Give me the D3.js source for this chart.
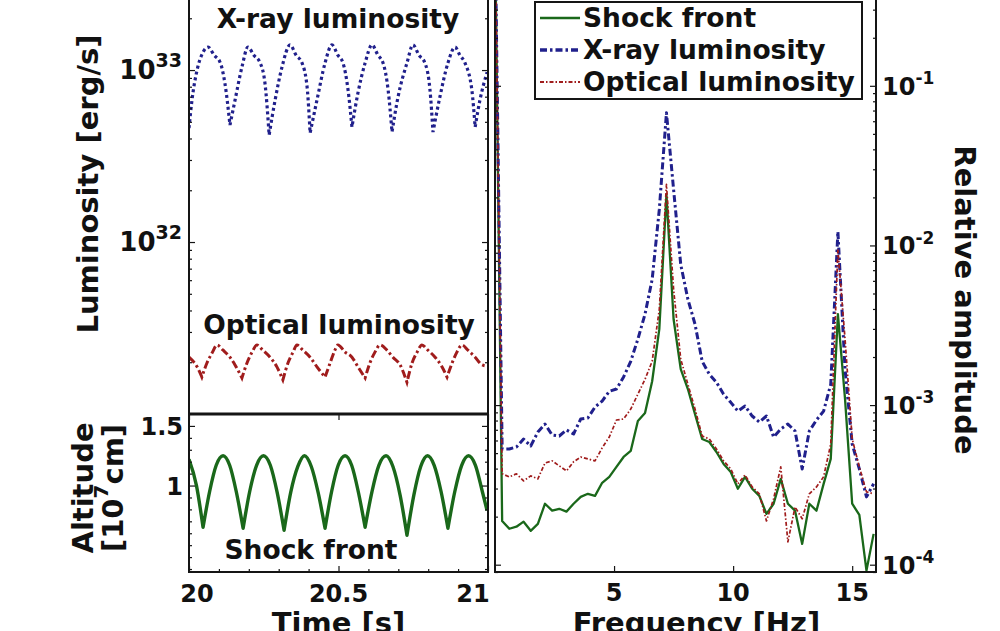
<!DOCTYPE html>
<html>
<head>
<meta charset="utf-8">
<script src="https://cdn.jsdelivr.net/npm/d3@7"></script>
<style>
  html, body { margin: 0; padding: 0; background: #fff; }
  svg { display: block; }
  text { font-family: "DejaVu Sans", sans-serif; font-weight: bold; fill: #111; }
</style>
</head>
<body>
<svg id="chart" width="1000" height="631"></svg>
<script>
// ---------- time series (t in s) ----------
const shockTime = [20.000,20.025,20.047,20.069,20.091,20.114,20.136,20.158,20.181,20.203,20.226,20.249,20.272,20.295,20.318,20.340,20.364,20.386,20.409,20.432,20.455,20.477,20.499,20.522,20.544,20.566,20.589,20.612,20.635,20.659,20.682,20.706,20.729,20.752,20.775,20.798,20.820,20.843,20.866,20.889,20.912,20.935,20.958,20.981,20.997];
const shockAltitude = [1.22,1.00,0.65, 0.95,1.17,1.25,1.17,0.95,0.642, 0.95,1.17,1.25,1.17,0.94,0.625, 0.94,1.16,1.25,1.16,0.94,0.642, 0.95,1.17,1.25,1.17,0.95,0.65, 0.95,1.17,1.25,1.16,0.92,0.583, 0.92,1.16,1.25,1.17,0.95,0.642, 0.95,1.17,1.25,1.17,0.95,0.79];

const xrayTime = [20.000,20.010,20.027,20.047,20.064,20.084,20.104,20.120,20.137,20.154,20.177,20.197,20.217,20.237,20.254,20.268,20.288,20.311,20.338,20.358,20.378,20.395,20.405,20.428,20.455,20.478,20.498,20.515,20.532,20.545,20.565,20.589,20.612,20.632,20.649,20.666,20.679,20.699,20.729,20.749,20.769,20.789,20.806,20.816,20.839,20.866,20.890,20.906,20.923,20.946,20.957,20.973,20.997];
const xrayLum = [4.60e32,6.69e32,1.00e33,1.27e33,1.36e33,1.22e33,1.11e33,8.40e32,4.79e32,6.69e32,1.04e33,1.36e33,1.22e33,1.11e33,8.40e32,4.19e32,6.69e32,1.04e33,1.40e33,1.22e33,1.10e33,7.96e32,4.30e32,6.69e32,1.10e33,1.40e33,1.22e33,1.10e33,7.65e32,4.66e32,7.35e32,1.10e33,1.40e33,1.22e33,1.10e33,7.65e32,4.36e32,6.96e32,1.10e33,1.40e33,1.22e33,1.10e33,7.65e32,4.36e32,6.96e32,1.10e33,1.36e33,1.22e33,1.10e33,7.65e32,4.66e32,6.69e32,9.70e32];

const opticalTime = [20.000,20.027,20.043,20.060,20.077,20.094,20.114,20.137,20.154,20.177,20.194,20.211,20.227,20.247,20.271,20.294,20.314,20.331,20.348,20.361,20.381,20.405,20.428,20.455,20.472,20.488,20.498,20.522,20.545,20.565,20.589,20.605,20.622,20.639,20.662,20.682,20.706,20.729,20.746,20.763,20.779,20.799,20.823,20.846,20.863,20.880,20.896,20.913,20.933,20.957,20.980,20.997];
const opticalLum = [2.14e31,1.88e31,1.64e31,1.98e31,2.26e31,2.52e31,2.35e31,2.14e31,1.93e31,1.62e31,1.98e31,2.29e31,2.52e31,2.35e31,2.14e31,1.88e31,1.58e31,1.98e31,2.29e31,2.52e31,2.35e31,2.14e31,1.88e31,1.64e31,1.98e31,2.35e31,2.52e31,2.29e31,2.14e31,1.88e31,1.62e31,1.98e31,2.29e31,2.52e31,2.35e31,2.14e31,1.93e31,1.53e31,1.98e31,2.29e31,2.52e31,2.35e31,2.14e31,1.88e31,1.64e31,1.98e31,2.29e31,2.52e31,2.35e31,2.14e31,1.93e31,1.90e31];

// ---------- spectra (relative amplitude vs frequency in Hz) ----------
const freq = [0,0.3,0.6,0.9,1.2,1.5,1.8,2.1,2.4,2.7,3.0,3.3,3.6,3.9,4.2,4.5,4.8,5.1,5.4,5.7,6.0,6.3,6.6,6.9,7.2,7.5,7.8,8.1,8.4,8.7,9.0,9.3,9.6,9.9,10.2,10.5,10.8,11.1,11.4,11.7,12.0,12.3,12.6,12.9,13.2,13.5,13.8,14.1,14.4,14.7,15.0,15.3,15.6,15.9];
const ampShock = [1,1.88e-4,1.68e-4,1.73e-4,1.86e-4,1.63e-4,1.80e-4,2.41e-4,2.18e-4,2.24e-4,2.15e-4,2.41e-4,2.66e-4,2.78e-4,2.70e-4,3.26e-4,3.55e-4,4.10e-4,4.73e-4,5.16e-4,7.94e-4,8.91e-4,1.41e-3,2.99e-3,2.08e-2,3.45e-3,1.68e-3,1.26e-3,8.78e-4,6.13e-4,5.87e-4,5.08e-4,4.28e-4,3.81e-4,2.99e-4,3.55e-4,2.99e-4,2.70e-4,2.08e-4,2.41e-4,3.45e-4,2.41e-4,2.18e-4,1.35e-4,2.41e-4,2.18e-4,3.21e-4,4.60e-4,3.71e-3,1.09e-3,2.41e-4,2.05e-4,9.18e-5,1.56e-4];
const ampXray = [1,5.31e-4,5.31e-4,5.46e-4,6.13e-4,5.54e-4,6.78e-4,7.60e-4,6.49e-4,6.40e-4,6.98e-4,6.59e-4,8.18e-4,8.30e-4,9.72e-4,1.06e-3,1.22e-3,1.26e-3,1.50e-3,1.88e-3,2.59e-3,3.71e-3,6.13e-3,1.68e-2,6.78e-2,2.24e-2,7.60e-3,4.60e-3,3.21e-3,1.88e-3,1.56e-3,1.39e-3,1.17e-3,1.04e-3,9.17e-4,9.86e-4,8.54e-4,7.83e-4,8.54e-4,6.31e-4,7.08e-4,7.60e-4,6.88e-4,3.98e-4,6.88e-4,8.06e-4,9.17e-4,1.35e-3,1.22e-2,1.68e-3,5.70e-4,3.98e-4,2.66e-4,3.21e-4];
const ampOptical = [1,3.71e-4,3.55e-4,3.71e-4,3.35e-4,3.60e-4,3.45e-4,4.34e-4,4.47e-4,4.16e-4,3.87e-4,4.41e-4,4.73e-4,4.60e-4,4.47e-4,5.39e-4,6.31e-4,8.06e-4,8.18e-4,9.44e-4,1.17e-3,1.45e-3,1.88e-3,3.98e-3,2.41e-2,5.31e-3,1.94e-3,1.35e-3,9.44e-4,6.40e-4,6.13e-4,5.31e-4,4.47e-4,3.98e-4,3.21e-4,3.65e-4,3.07e-4,2.78e-4,1.88e-4,2.59e-4,4.10e-4,1.39e-4,2.30e-4,1.94e-4,2.78e-4,3.07e-4,3.55e-4,5.70e-4,9.44e-3,2.59e-3,6.13e-4,4.10e-4,2.86e-4,2.78e-4];

// ---------- tick values and labels ----------
const timeTicks = [20, 20.5, 21];
const timeTickLabels = ["20", "20.5", "21"];
const lumTicks = [1e32, 1e33];
const lumTickExps = ["32", "33"];
const altTicks = [1, 1.5];
const altTickLabels = ["1", "1.5"];
const freqTicks = [5, 10, 15];
const freqTickLabels = ["5", "10", "15"];
const ampTicks = [1e-4, 1e-3, 1e-2, 1e-1];
const ampTickExps = ["-4", "-3", "-2", "-1"];
const legendLabels = ["Shock front", "X-ray luminosity", "Optical luminosity"];

// ---------- layout ----------
const svg = d3.select("#chart");
const L = { x0: 189, x1: 488, top: -12, mid: 414, bot: 572 };
const R = { x0: 495, x1: 876, top: -12, bot: 572 };
const COL = { shock: "#1a681a", xray: "#20208c", optical: "#a01c1c", ink: "#151515" };

const xTime = d3.scaleLinear().domain([20, 21]).range([L.x0, L.x1]);
const yLum = d3.scaleLog().domain([1e31, 3e33]).range([L.mid, L.top]);
const yAlt = d3.scaleLinear().domain([0.275, 1.6]).range([L.bot, L.mid]);
const xFreq = d3.scaleLinear().domain([0, 16]).range([R.x0, R.x1]);
const yAmp = d3.scaleLog().domain([9e-5, 0.41]).range([R.bot, R.top]);

const defs = svg.append("defs");
function clip(id, x, y, w, h) {
  defs.append("clipPath").attr("id", id).append("rect")
    .attr("x", x).attr("y", y).attr("width", w).attr("height", h);
}
clip("clipLum", L.x0, L.top, L.x1 - L.x0, L.mid - L.top);
clip("clipAlt", L.x0, L.mid, L.x1 - L.x0, L.bot - L.mid);
clip("clipAmp", R.x0 - 2, R.top, R.x1 - R.x0 + 2, R.bot - R.top);

// A cusp-aware path: smooth within each arch, sharp at every local minimum.
function cuspPath(xs, ys, xScale, yScale) {
  const pts = xs.map((x, i) => [xScale(x), yScale(ys[i])]);
  const cuts = [0];
  for (let i = 1; i < ys.length - 1; i++) {
    if (ys[i] < ys[i - 1] && ys[i] < ys[i + 1]) cuts.push(i);
  }
  cuts.push(ys.length - 1);
  const line = d3.line().curve(d3.curveMonotoneX);
  return d3.pairs(cuts)
    .map(([a, b], k) => {
      const p = line(pts.slice(a, b + 1));
      return k ? p.replace(/^M/, "L") : p;
    })
    .join("");
}

// ---------- left panels: light curves ----------
const gLum = svg.append("g").attr("clip-path", "url(#clipLum)");
gLum.append("path")
  .attr("d", cuspPath(xrayTime, xrayLum, xTime, yLum))
  .attr("fill", "none").attr("stroke", COL.xray)
  .attr("stroke-width", 3.2).attr("stroke-dasharray", "3,3");
gLum.append("path")
  .attr("d", cuspPath(opticalTime, opticalLum, xTime, yLum))
  .attr("fill", "none").attr("stroke", COL.optical)
  .attr("stroke-width", 3).attr("stroke-dasharray", "8,3,2.5,3");

const gAlt = svg.append("g").attr("clip-path", "url(#clipAlt)");
gAlt.append("path")
  .attr("d", cuspPath(shockTime, shockAltitude, xTime, yAlt))
  .attr("fill", "none").attr("stroke", COL.shock)
  .attr("stroke-width", 3.4).attr("stroke-linejoin", "round");

// ---------- right panel: spectra ----------
const gAmp = svg.append("g").attr("clip-path", "url(#clipAmp)");
const specLine = d3.line().x((d, i) => xFreq(freq[i])).y(d => yAmp(d));
const spectra = [
  { values: ampShock, color: COL.shock, width: 2.3, dash: null },
  { values: ampXray, color: COL.xray, width: 3, dash: "7,3,2.5,3" },
  { values: ampOptical, color: COL.optical, width: 1.7, dash: "4,2,1.5,2" }
];
spectra.forEach(s => {
  gAmp.append("path")
    .attr("d", specLine(s.values))
    .attr("fill", "none").attr("stroke", s.color)
    .attr("stroke-width", s.width)
    .attr("stroke-dasharray", s.dash)
    .attr("stroke-linejoin", "round");
});

// ---------- ticks (inward, on both sides) ----------
function tickSet(axis, scale, values, len, tx, ty) {
  svg.append("g").attr("transform", `translate(${tx},${ty})`)
    .style("color", COL.ink)
    .call(axis(scale).tickValues(values).tickSize(-len).tickFormat(""))
    .call(g => g.select(".domain").remove())
    .call(g => g.selectAll("line").attr("stroke-width", 1.2));
}
const isDecade = v => Math.abs(Math.log10(v) - Math.round(Math.log10(v))) < 1e-9;
const lumMinor = yLum.ticks().filter(v => !isDecade(v));
const ampMinor = yAmp.ticks().filter(v => !isDecade(v));
const altMinor = d3.range(3, 16).map(k => k / 10).filter(v => !altTicks.includes(v));
const timeMinor = d3.range(1, 10).map(k => 20 + k / 10).filter(v => !timeTicks.includes(v));

tickSet(d3.axisLeft, yLum, lumTicks, 6, L.x0, 0);
tickSet(d3.axisLeft, yLum, lumMinor, 3, L.x0, 0);
tickSet(d3.axisRight, yLum, lumTicks, 6, L.x1, 0);
tickSet(d3.axisRight, yLum, lumMinor, 3, L.x1, 0);
tickSet(d3.axisLeft, yAlt, altTicks, 6, L.x0, 0);
tickSet(d3.axisLeft, yAlt, altMinor, 3, L.x0, 0);
tickSet(d3.axisRight, yAlt, altTicks, 6, L.x1, 0);
tickSet(d3.axisRight, yAlt, altMinor, 3, L.x1, 0);
tickSet(d3.axisBottom, xTime, timeTicks, 6, 0, L.bot);
tickSet(d3.axisBottom, xTime, timeMinor, 3, 0, L.bot);
tickSet(d3.axisTop, xTime, timeTicks, 6, 0, L.mid);
tickSet(d3.axisLeft, yAmp, ampTicks, 6, R.x0, 0);
tickSet(d3.axisLeft, yAmp, ampMinor, 3, R.x0, 0);
tickSet(d3.axisRight, yAmp, ampTicks, 6, R.x1, 0);
tickSet(d3.axisRight, yAmp, ampMinor, 3, R.x1, 0);
tickSet(d3.axisBottom, xFreq, freqTicks, 6, 0, R.bot);

// ---------- frames ----------
function frame(x0, y0, x1, y1) {
  svg.append("rect").attr("x", x0).attr("y", y0)
    .attr("width", x1 - x0).attr("height", y1 - y0)
    .attr("fill", "none").attr("stroke", COL.ink).attr("stroke-width", 2);
}
frame(L.x0, L.top, L.x1, L.mid);
frame(L.x0, L.mid, L.x1, L.bot);
frame(R.x0, R.top, R.x1, R.bot);
svg.append("line").attr("x1", L.x0).attr("x2", L.x1)
  .attr("y1", L.mid).attr("y2", L.mid)
  .attr("stroke", COL.ink).attr("stroke-width", 3);

// ---------- tick labels ----------
const TICK = 24;
function powerLabel(x, y, exp, anchor, size) {
  const t = svg.append("text").attr("x", x).attr("y", y)
    .attr("text-anchor", anchor).style("font-size", size + "px");
  t.append("tspan").text("10");
  t.append("tspan").attr("dy", -0.45 * size)
    .style("font-size", Math.round(size * 0.72) + "px").text(exp);
}
lumTicks.forEach((v, i) => powerLabel(L.x0 - 7, yLum(v) + 9, lumTickExps[i], "end", 26));
ampTicks.forEach((v, i) => powerLabel(R.x1 + 6, yAmp(v) + 9, ampTickExps[i], "start", TICK));

svg.selectAll(".altLab").data(altTicks).join("text")
  .attr("x", L.x0 - 6).attr("y", d => yAlt(d) + 9)
  .attr("text-anchor", "end").style("font-size", TICK + "px")
  .text((d, i) => altTickLabels[i]);

const lastT = timeTicks.length - 1;
svg.selectAll(".timeLab").data(timeTicks).join("text")
  .attr("x", d => xTime(d)).attr("y", 602)
  .attr("dx", (d, i) => i === 0 ? 8 : i === lastT ? -15 : 0)
  .attr("text-anchor", "middle").style("font-size", TICK + "px")
  .text((d, i) => timeTickLabels[i]);

svg.selectAll(".freqLab").data(freqTicks).join("text")
  .attr("x", d => xFreq(d)).attr("y", 601)
  .attr("text-anchor", "middle").style("font-size", TICK + "px")
  .text((d, i) => freqTickLabels[i]);

// ---------- axis titles ----------
const TITLE = 29;
svg.append("text").attr("transform", "translate(88,184) rotate(-90)")
  .attr("text-anchor", "middle").attr("dominant-baseline", "central")
  .style("font-size", TITLE + "px").text("Luminosity [erg/s]");
svg.append("text").attr("transform", "translate(83,488) rotate(-90)")
  .attr("text-anchor", "middle").attr("dominant-baseline", "central")
  .style("font-size", TITLE + "px").text("Altitude");
const alt2 = svg.append("text").attr("transform", "translate(113,488) rotate(-90)")
  .attr("text-anchor", "middle").attr("dominant-baseline", "central")
  .style("font-size", TITLE + "px");
alt2.append("tspan").text("[10");
alt2.append("tspan").attr("dy", -12).style("font-size", "20px").text("7");
alt2.append("tspan").attr("dy", 12).text("cm]");
svg.append("text").attr("transform", "translate(965,300) rotate(90)")
  .attr("text-anchor", "middle").attr("dominant-baseline", "central")
  .style("font-size", TITLE + "px").text("Relative amplitude");
svg.append("text").attr("x", (L.x0 + L.x1) / 2).attr("y", 633)
  .attr("text-anchor", "middle").style("font-size", TITLE + "px").text("Time [s]");
svg.append("text").attr("x", (R.x0 + R.x1) / 2 + 11).attr("y", 633)
  .attr("text-anchor", "middle").style("font-size", TITLE + "px").text("Frequency [Hz]");

// ---------- in-panel annotations ----------
const NOTE = 26.5;
svg.append("text").attr("x", 338).attr("y", 28).attr("text-anchor", "middle")
  .style("font-size", NOTE + "px").text("X-ray luminosity");
svg.append("text").attr("x", 339).attr("y", 334).attr("text-anchor", "middle")
  .style("font-size", NOTE + "px").text("Optical luminosity");
svg.append("text").attr("x", 311).attr("y", 559).attr("text-anchor", "middle")
  .style("font-size", NOTE + "px").text("Shock front");

// ---------- legend ----------
const leg = svg.append("g");
leg.append("rect").attr("x", 535).attr("y", 2).attr("width", 327).attr("height", 97)
  .attr("fill", "#fff").attr("stroke", COL.ink).attr("stroke-width", 2);
spectra.forEach((s, i) => {
  const y = 18 + i * 32;
  leg.append("line").attr("x1", 540).attr("x2", 580).attr("y1", y).attr("y2", y)
    .attr("stroke", s.color).attr("stroke-width", s.width + 0.3)
    .attr("stroke-dasharray", s.dash);
  leg.append("text").attr("x", 583).attr("y", y + 9)
    .style("font-size", NOTE + "px").text(legendLabels[i]);
});
</script>
</body>
</html>
